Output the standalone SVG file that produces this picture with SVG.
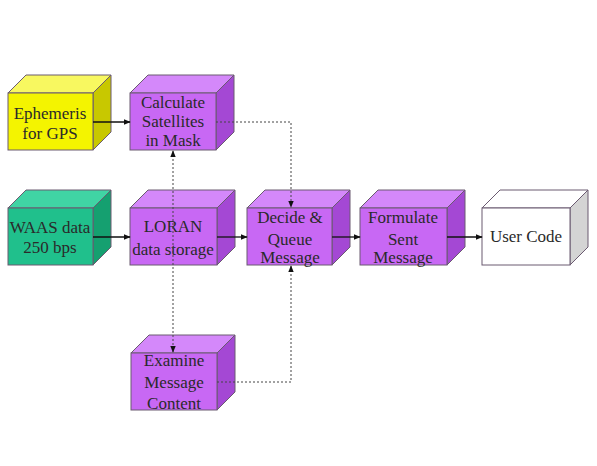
<svg xmlns="http://www.w3.org/2000/svg" width="597" height="466" viewBox="0 0 597 466">
<defs>
<marker id="arr" viewBox="0 0 10 10" refX="9" refY="5" markerWidth="7" markerHeight="7" orient="auto-start-reverse" markerUnits="userSpaceOnUse">
<path d="M0,1 L10,5 L0,9 z" fill="#111"/>
</marker>
<style>
.t{font-family:"Liberation Serif","Times New Roman",serif;font-size:17px;fill:#2a2a2a;text-anchor:middle}
.ol{stroke:#6a5a70;stroke-width:1}
.yf{fill:#f4f400}.yt{fill:#f8f860}.ys{fill:#c8c800}
.gf{fill:#20c08c}.gt{fill:#40d4a4}.gs{fill:#15a070}
.pf{fill:#c868f4}.pt{fill:#d488fa}.ps{fill:#a448d4}
.wf{fill:#ffffff}.wt{fill:#ffffff}.ws{fill:#d4d4d4}
.s{stroke:#111;stroke-width:1.3;fill:none}
.d{stroke:#444;stroke-width:1;fill:none;stroke-dasharray:2 2}
</style>
</defs>
<g id="ephemeris">
<polygon class="yt ol" points="8,93 26,75 111,75 93,93"/>
<polygon class="ys ol" points="93,93 111,75 111,132 93,150"/>
<rect class="yf ol" x="8" y="93" width="85" height="57"/>
<text class="t" x="50" y="119">Ephemeris</text>
<text class="t" x="50" y="139">for GPS</text>
</g>
<g id="calculate">
<polygon class="pt ol" points="130,93 148,75 234,75 216,93"/>
<polygon class="ps ol" points="216,93 234,75 234,132 216,150"/>
<rect class="pf ol" x="130" y="93" width="86" height="57"/>
<text class="t" x="173" y="108">Calculate</text>
<text class="t" x="173" y="127">Satellites</text>
<text class="t" x="173" y="146">in Mask</text>
</g>
<g id="waas">
<polygon class="gt ol" points="8,208 26,190 111,190 93,208"/>
<polygon class="gs ol" points="93,208 111,190 111,247 93,265"/>
<rect class="gf ol" x="8" y="208" width="85" height="57"/>
<text class="t" x="50" y="233">WAAS data</text>
<text class="t" x="50" y="253">250 bps</text>
</g>
<g id="loran">
<polygon class="pt ol" points="130,208 148,190 235,190 217,208"/>
<polygon class="ps ol" points="217,208 235,190 235,247 217,265"/>
<rect class="pf ol" x="130" y="208" width="87" height="57"/>
<text class="t" x="173" y="232">LORAN</text>
<text class="t" x="173" y="255">data storage</text>
</g>
<g id="decide">
<polygon class="pt ol" points="247,208 265,190 350,190 332,208"/>
<polygon class="ps ol" points="332,208 350,190 350,247 332,265"/>
<rect class="pf ol" x="247" y="208" width="85" height="57"/>
<text class="t" x="290" y="223">Decide &amp;</text>
<text class="t" x="290" y="245">Queue</text>
<text class="t" x="290" y="263">Message</text>
</g>
<g id="formulate">
<polygon class="pt ol" points="360,208 378,190 465,190 447,208"/>
<polygon class="ps ol" points="447,208 465,190 465,247 447,265"/>
<rect class="pf ol" x="360" y="208" width="87" height="57"/>
<text class="t" x="403" y="223">Formulate</text>
<text class="t" x="403" y="245">Sent</text>
<text class="t" x="403" y="263">Message</text>
</g>
<g id="usercode">
<polygon class="wt ol" points="482,208 500,190 588,190 570,208"/>
<polygon class="ws ol" points="570,208 588,190 588,247 570,265"/>
<rect class="wf ol" x="482" y="208" width="88" height="57"/>
<text class="t" x="526" y="242">User Code</text>
</g>
<g id="examine">
<polygon class="pt ol" points="131,353 149,335 235,335 217,353"/>
<polygon class="ps ol" points="217,353 235,335 235,392 217,410"/>
<rect class="pf ol" x="131" y="353" width="86" height="57"/>
<text class="t" x="174" y="366">Examine</text>
<text class="t" x="174" y="388">Message</text>
<text class="t" x="174" y="409">Content</text>
</g>
<g id="connectors">
<line class="s" x1="93" y1="122" x2="130" y2="122" marker-end="url(#arr)"/>
<line class="s" x1="93" y1="237" x2="130" y2="237" marker-end="url(#arr)"/>
<line class="s" x1="217" y1="237" x2="247" y2="237" stroke-width="1" marker-end="url(#arr)"/>
<line class="s" x1="332" y1="237" x2="360" y2="237" stroke-width="1" marker-end="url(#arr)"/>
<line class="s" x1="447" y1="237" x2="482" y2="237" stroke-width="2" marker-end="url(#arr)"/>
<line class="d" x1="173" y1="151" x2="173" y2="352" marker-start="url(#arr)" marker-end="url(#arr)"/>
<polyline class="d" points="216,122 291,122 291,207" marker-end="url(#arr)"/>
<polyline class="d" points="217,382 291,382 291,266" marker-end="url(#arr)"/>
</g>
</svg>
